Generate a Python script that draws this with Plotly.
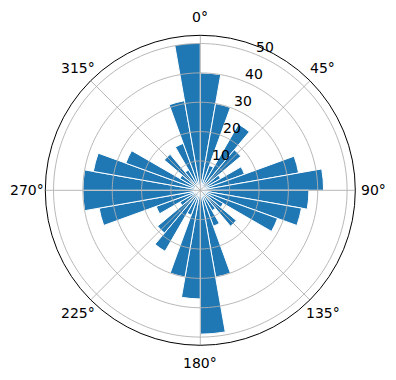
import math
import plotly.graph_objects as go

# bin start angles (degrees, clockwise from north) and bar heights
bin_starts = list(range(0, 360, 10))
bin_width = 10
heights = [40, 30, 9, 26, 18, 8, 16, 34, 42,
           37, 35, 28, 9, 16, 8, 13, 30, 49,
           37, 30, 9, 24, 19, 8, 16, 35, 40,
           40, 37, 27, 8, 16, 8, 17, 31, 50.2]
r_ticks = [10, 20, 30, 40, 50]
theta_ticks = [0, 45, 90, 135, 180, 225, 270, 315]
r_max = 52.8

grid_color = "#b0b0b0"
fig = go.Figure()
fig.add_trace(go.Barpolar(
    r=heights,
    theta=[s + bin_width / 2 for s in bin_starts],
    width=[bin_width] * len(bin_starts),
    marker=dict(color="#1f77b4", line=dict(color="white", width=1)),
    hoverinfo="skip",
))

# gridlines drawn above the bars (as in matplotlib)
circ = [i * 2 for i in range(181)]
for rv in r_ticks:
    fig.add_trace(go.Scatterpolar(r=[rv] * len(circ), theta=circ, mode="lines",
                                  line=dict(color=grid_color, width=0.9),
                                  hoverinfo="skip"))
for tv in theta_ticks:
    fig.add_trace(go.Scatterpolar(r=[0, r_max], theta=[tv, tv], mode="lines",
                                  line=dict(color=grid_color, width=0.9),
                                  hoverinfo="skip"))

W, H = 396, 380
cx, cy, R = 200.3, 190.3, 155
label_dist = 173
rlabel_angle = 22.5

annotations = []
for t in theta_ticks:
    a = math.radians(t)
    px = cx + label_dist * math.sin(a)
    py = cy - label_dist * math.cos(a)
    annotations.append(dict(x=px / W, y=1 - py / H, xref="paper", yref="paper",
                            text=f"{t}°", showarrow=False,
                            xanchor="center", yanchor="middle",
                            font=dict(size=14, family="DejaVu Sans", color="black")))
for rv in r_ticks:
    a = math.radians(rlabel_angle)
    rp = rv / r_max * R
    px = cx + rp * math.sin(a) + 9
    py = cy - rp * math.cos(a) - 8
    annotations.append(dict(x=px / W, y=1 - py / H, xref="paper", yref="paper",
                            text=str(rv), showarrow=False,
                            xanchor="center", yanchor="middle",
                            font=dict(size=14, family="DejaVu Sans", color="black")))

fig.update_layout(
    width=W, height=H,
    margin=dict(l=0, r=0, t=0, b=0),
    paper_bgcolor="white",
    showlegend=False,
    font=dict(family="DejaVu Sans", size=14, color="black"),
    annotations=annotations,
    polar=dict(
        domain=dict(x=[(cx - R) / W, (cx + R) / W],
                    y=[(H - cy - R) / H, (H - cy + R) / H]),
        bgcolor="white",
        angularaxis=dict(
            rotation=90, direction="clockwise",
            tickmode="array", tickvals=theta_ticks,
            showticklabels=False,
            showgrid=False, ticks="", showline=True,
            linecolor="black", linewidth=1,
        ),
        radialaxis=dict(
            range=[0, r_max], tickmode="array", tickvals=r_ticks,
            showgrid=False, showline=False, ticks="",
            showticklabels=False,
        ),
    ),
)
fig.write_html("out.html")
